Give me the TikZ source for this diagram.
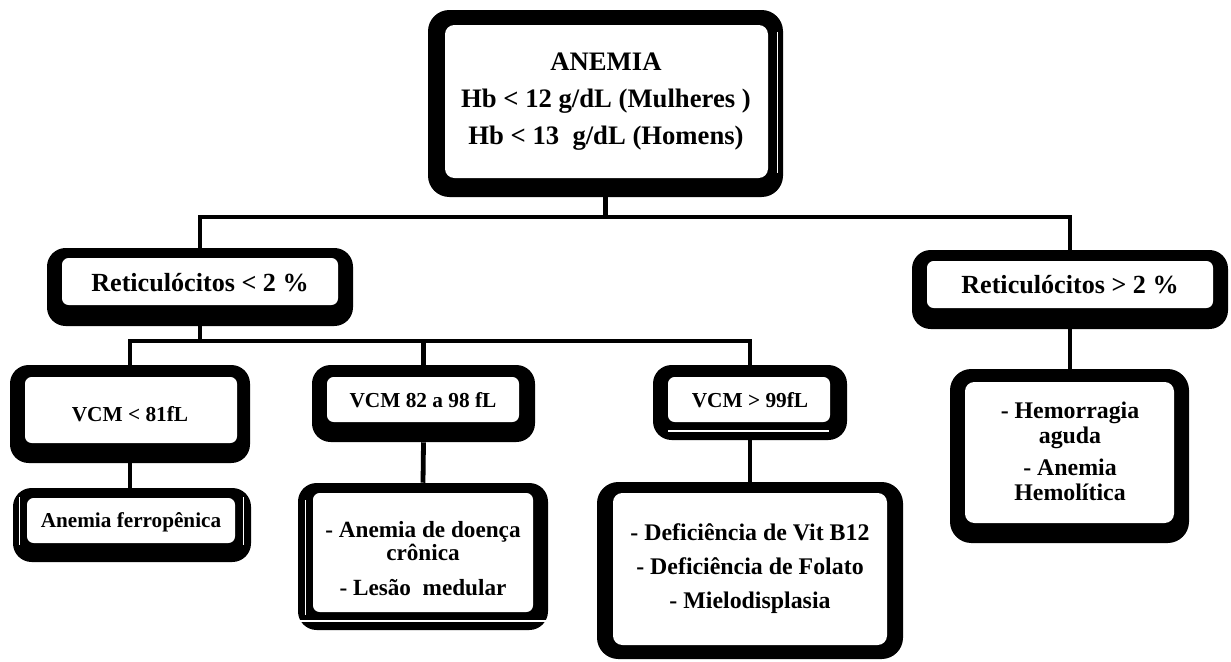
\documentclass[tikz,border=0pt]{standalone}
\usepackage{fontspec}
\setmainfont{Liberation Serif}
\usetikzlibrary{fit}
\tikzset{
  ob/.style={fill=black, draw=none, rounded corners=#1, inner sep=0pt},
  ob/.default=14pt,
  ib/.style={fill=white, draw=none, rounded corners=5pt, inner sep=0pt},
  tx/.style={align=center, inner sep=0pt},
  link/.style={line width=3.6pt},
  gap/.style={draw=white, line width=0.7pt}
}
\begin{document}
\begin{tikzpicture}[x=0.75pt,y=-0.75pt]
\useasboundingbox (0,0) rectangle (1231,661);
% ---------- top box
\node[ob=16pt, fit={(428,10) (783,197)}] (top) {};
\node[ib, rounded corners=7pt, fit={(445,25) (768,178)}] (topin) {};
\draw[gap] (777,32) -- (777,173);
\node[tx, font={\fontsize{20}{27.75}\selectfont\bfseries}] (toptx) at (606,102)
  {ANEMIA\\Hb < 12 g/dL (Mulheres )\\Hb < 13~~g/dL (Homens)};
% ---------- reticulocitos
\node[ob, fit={(47,248) (353,326)}] (r1) {};
\node[ib, fit={(62,258) (338,305)}] (r1in) {};
\node[tx, font={\fontsize{19.6}{24}\selectfont\bfseries}] (r1tx) at (200,283) {Reticulócitos < 2 \%};
\node[ob, fit={(912,250) (1228,329)}] (r2) {};
\node[ib, fit={(927,261) (1213,308)}] (r2in) {};
\node[tx, font={\fontsize{19.6}{24}\selectfont\bfseries}] (r2tx) at (1070,285) {Reticulócitos > 2 \%};
% ---------- VCM boxes
\node[ob, fit={(10,365) (250,463)}] (v1) {};
\node[ib, fit={(25,377) (237,443)}] (v1in) {};
\node[tx, font={\fontsize{16}{19}\selectfont\bfseries}] (v1tx) at (130,414) {VCM < 81fL};
\node[ob, fit={(312,365) (535,442)}] (v2) {};
\node[ib, fit={(327,377) (519,422)}] (v2in) {};
\node[tx, font={\fontsize{16}{19}\selectfont\bfseries}] (v2tx) at (423,400) {VCM 82 a 98 fL};
\node[ob, fit={(653,365) (847,440)}] (v3) {};
\node[ib, fit={(668,377) (830,422)}] (v3in) {};
\draw[draw=white, line width=1.6pt] (668,431) -- (829,431);
\node[tx, font={\fontsize{16}{19}\selectfont\bfseries}] (v3tx) at (750,400) {VCM > 99fL};
% ---------- result boxes
\node[ob, fit={(13,488) (251,562)}] (fe) {};
\node[ib, fit={(27,498) (235,543)}] (fein) {};
\draw[gap] (19,497) -- (19,545);
\draw[gap] (243,497) -- (243,545);
\node[tx, font={\fontsize{15.9}{19}\selectfont\bfseries}] (fetx) at (131,522) {Anemia ferropênica};
\node[ob, fit={(298,483) (548,630)}] (dc) {};
\node[ib, fit={(313,493) (533,612)}] (dcin) {};
\draw[draw=white, line width=1.4pt] (300,621) -- (546,621);
\draw[gap] (305,500) -- (305,615);
\node[tx, font={\fontsize{17.4}{17.25}\selectfont\bfseries}] (dctx) at (423,559)
  {- Anemia de doença\\crônica\\[9pt]- Lesão~~medular};
\node[ob=16pt, fit={(597,482) (903,659)}] (df) {};
\node[ib, rounded corners=7pt, fit={(613,493) (887,645)}] (dfin) {};
\node[tx, font={\fontsize{17.9}{25.5}\selectfont\bfseries}] (dftx) at (750,569)
  {- Deficiência de Vit B12\\- Deficiência de Folato\\- Mielodisplasia};
\node[ob=16pt, fit={(950,369) (1189,543)}] (hm) {};
\node[ib, rounded corners=7pt, fit={(965,382) (1174,523)}] (hmin) {};
\node[tx, font={\fontsize{17.9}{18.75}\selectfont\bfseries}] (hmtx) at (1070,451)
  {- Hemorragia\\aguda\\[5pt]- Anemia\\Hemolítica};
% ---------- connectors
\coordinate (j1) at (0,217);
\coordinate (j2) at (0,341);
\draw[link] (top.south) -- (top.south |- j1) -| (r1.north);
\draw[link] (top.south |- j1) -| (r2.north);
\draw[link] (r1.south) -- (r1.south |- j2) -| (v1.north);
\draw[link] (r1.south |- j2) -| (v3.north);
\draw[link] (v2.north) -- (v2.north |- j2);
\draw[link] (v1.south) -- (v1.south |- fe.north);
\draw[link] (v2.south) -- (dc.north);
\draw[link] (v3.south) -- (v3.south |- df.north);
\draw[link] (r2.south) -- (r2.south |- hm.north);
\end{tikzpicture}
\end{document}
